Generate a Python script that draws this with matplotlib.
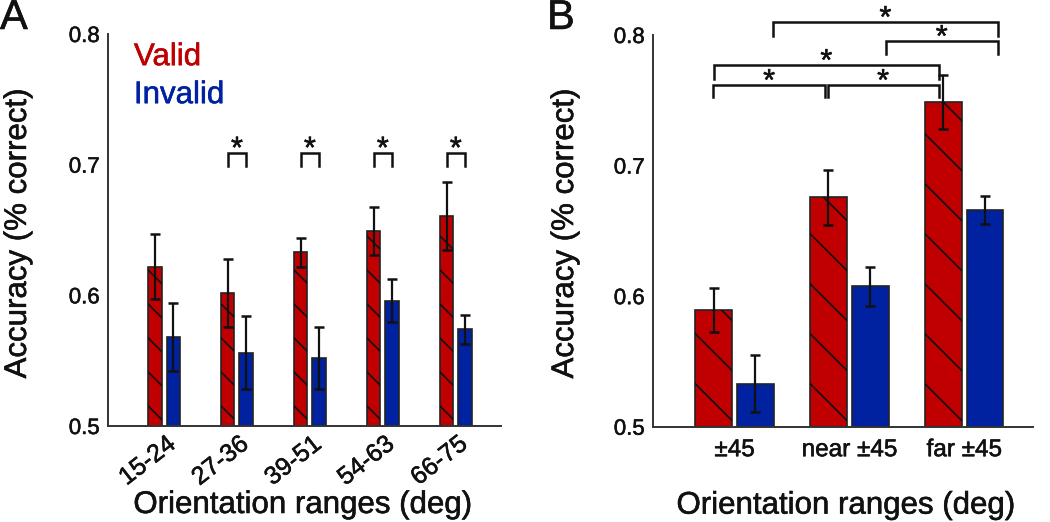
import matplotlib
matplotlib.use('Agg')
import matplotlib.pyplot as plt
import matplotlib.patheffects as pe
from matplotlib.text import Text
import numpy as np
from matplotlib.lines import Line2D

plt.rcParams['font.family'] = ['Liberation Sans', 'DejaVu Sans']

# ---------------- data ----------------
a_categories = ['15-24', '27-36', '39-51', '54-63', '66-75']
a_valid = [0.622, 0.602, 0.633, 0.649, 0.661]
a_valid_err = [0.025, 0.026, 0.011, 0.0185, 0.026]
a_invalid = [0.568, 0.556, 0.552, 0.596, 0.574]
a_invalid_err = [0.026, 0.028, 0.024, 0.0165, 0.011]
a_sig_groups = [1, 2, 3, 4]          # groups with valid vs invalid significance
a_sig_y = [0.699, 0.709]             # leg bottom, bracket top

b_categories = ['±45', 'near ±45', 'far ±45']
b_valid = [0.5895, 0.6756, 0.7485]
b_valid_err = [0.0167, 0.021, 0.0207]
b_invalid = [0.533, 0.6074, 0.6662]
b_invalid_err = [0.022, 0.0146, 0.0107]
# brackets: (x_left, x_right, y_top, y_leg_bottom)
b_brackets = [
    (1.336, 3.292, 0.8098, 0.7996),
    (2.318, 3.292, 0.7952, 0.7858),
    (0.821, 2.778, 0.7768, 0.7664),
    (0.8125, 1.79, 0.7615, 0.7523),
    (1.810, 2.778, 0.7615, 0.7523),
]

RED = '#C00000'
BLUE = '#0022A0'
EDGE = '#222222'
TXT = '#111111'

fig = plt.figure(figsize=(10.5, 5.22), dpi=100)
axA = fig.add_axes([108/1050, 96/522, 393/1050, 392/522])
axB = fig.add_axes([653/1050, 95.3/522, 380/1050, 391.7/522])


def hatch_bars(ax, bars, spacing, phase, lw=1.2):
    ybot = ax.transData.transform((0, ax.get_ylim()[0]))[1]
    inv = ax.transData.inverted()
    for bar in bars:
        x0, y0 = ax.transData.transform((bar.get_x(), bar.get_y()))
        x1, y1 = ax.transData.transform((bar.get_x() + bar.get_width(),
                                         bar.get_y() + bar.get_height()))
        y0 = max(y0, ybot)
        w = x1 - x0
        c = y0 + phase
        while c < y1 + w:
            pts = inv.transform([(x0 - 2, c + 2), (x1 + 2, c - w - 2)])
            ln = Line2D(pts[:, 0], pts[:, 1], color='#111111', lw=lw,
                        zorder=1.5, solid_capstyle='butt')
            ax.add_line(ln)
            ln.set_clip_path(bar)
            c += spacing


def style_axis(ax):
    for s in ['top', 'right']:
        ax.spines[s].set_visible(False)
    for s in ['left', 'bottom']:
        ax.spines[s].set_linewidth(1.4)
        ax.spines[s].set_color('#333333')
    ax.tick_params(length=0, labelsize=16, colors=TXT)
    ax.set_ylim(0.5, 0.8)
    ax.set_yticks([0.5, 0.6, 0.7, 0.8])
    ax.set_yticklabels(['0.5', '0.6', '0.7', '0.8'])
    ax.tick_params(axis='y', pad=6)


# ---------------- panel A ----------------
xa = np.arange(1, len(a_categories) + 1)
wa = 0.183
oa = 0.126
axA.set_xlim(0.232, 5.62)
style_axis(axA)
barsA_v = axA.bar(xa - oa, a_valid, wa, color=RED, edgecolor=EDGE, linewidth=1.2, zorder=1)
barsA_i = axA.bar(xa + oa, a_invalid, wa, color=BLUE, edgecolor=EDGE, linewidth=1.2, zorder=1)
axA.errorbar(xa - oa, a_valid, yerr=a_valid_err, fmt='none', ecolor='#111111',
             elinewidth=1.6, capsize=3.3, capthick=1.8, zorder=3)
axA.errorbar(xa + oa, a_invalid, yerr=a_invalid_err, fmt='none', ecolor='#111111',
             elinewidth=1.6, capsize=3.3, capthick=1.8, zorder=3)
hatch_bars(axA, barsA_v, 34, 20)

# tick labels (invisible ticks) sit slightly right of group centres
axA.set_xticks(xa + 0.22)
axA.set_xticklabels(a_categories, rotation=38, ha='right', fontsize=18)
axA.tick_params(axis='x', pad=4)

for g in a_sig_groups:
    xl, xr = xa[g] - oa, xa[g] + oa
    axA.plot([xl, xl, xr, xr], [a_sig_y[0], a_sig_y[1], a_sig_y[1], a_sig_y[0]],
             color='#111111', lw=1.8, clip_on=False, solid_joinstyle='miter')
    axA.annotate('*', ((xl + xr) / 2, a_sig_y[1]), xytext=(0, -3.5), textcoords='offset points',
                 ha='center', va='baseline', fontsize=22, color=TXT, annotation_clip=False)

axA.text(0.066, 0.941, 'Valid', transform=axA.transAxes, color=RED, fontsize=22.5,
         ha='left', va='center')
axA.text(0.066, 0.844, 'Invalid', transform=axA.transAxes, color=BLUE, fontsize=22.5,
         ha='left', va='center')

axA.set_ylabel('Accuracy (% correct)', fontsize=22.5, color=TXT)
axA.yaxis.set_label_coords(-0.191, 0.492)
axA.set_xlabel('Orientation ranges (deg)', fontsize=22.5, color=TXT)
axA.xaxis.set_label_coords(0.496, -0.2015)
axA.xaxis.label.set_va('center')

# ---------------- panel B ----------------
xb = np.arange(1, len(b_categories) + 1)
wb = 0.32
ob = 0.182
axB.set_xlim(0.29, 3.6)
style_axis(axB)
barsB_v = axB.bar(xb - ob, b_valid, wb, color=RED, edgecolor=EDGE, linewidth=1.2, zorder=1)
barsB_i = axB.bar(xb + ob, b_invalid, wb, color=BLUE, edgecolor=EDGE, linewidth=1.2, zorder=1)
axB.errorbar(xb - ob, b_valid, yerr=b_valid_err, fmt='none', ecolor='#111111',
             elinewidth=1.6, capsize=3.3, capthick=1.8, zorder=3)
axB.errorbar(xb + ob, b_invalid, yerr=b_invalid_err, fmt='none', ecolor='#111111',
             elinewidth=1.6, capsize=3.3, capthick=1.8, zorder=3)
hatch_bars(axB, barsB_v, 50, 43)

axB.set_xticks(xb)
axB.set_xticklabels(b_categories, fontsize=17.5)
axB.tick_params(axis='x', pad=9)

for xl, xr, yt, yb in b_brackets:
    axB.plot([xl, xl, xr, xr], [yb, yt, yt, yb], color='#111111', lw=1.8,
             clip_on=False, solid_joinstyle='miter')
    axB.annotate('*', ((xl + xr) / 2, yt), xytext=(0, -3.5), textcoords='offset points',
                 ha='center', va='baseline', fontsize=22, color=TXT, annotation_clip=False)

axB.set_ylabel('Accuracy (% correct)', fontsize=22.5, color=TXT)
axB.yaxis.set_label_coords(-0.192, 0.494)
axB.set_xlabel('Orientation ranges (deg)', fontsize=22.5, color=TXT)
axB.xaxis.set_label_coords(0.508, -0.2015)
axB.xaxis.label.set_va('center')

fig.text(0.0, 1 - 18/522, 'A', fontsize=30, ha='left', va='center', color=TXT)
fig.text(547/1050, 1 - 18/522, 'B', fontsize=30, ha='left', va='center', color=TXT)

# slightly heavier text strokes, like the reference rendering
for t in fig.findobj(Text):
    if t.get_text():
        t.set_path_effects([pe.withStroke(linewidth=0.4, foreground=t.get_color())])

fig.savefig('out.png', dpi=100)
